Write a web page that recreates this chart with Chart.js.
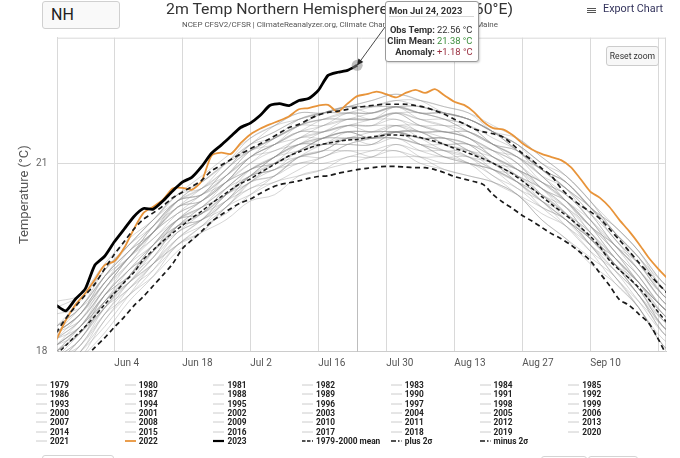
<!DOCTYPE html>
<html>
<head>
<meta charset="utf-8">
<title>2m Temp Northern Hemisphere</title>
<script src="https://cdn.jsdelivr.net/npm/chart.js@4.4.1/dist/chart.umd.min.js"></script>
<style>
  body { margin: 0; background: #fff; font-family: Roboto, "Noto Sans", sans-serif; }
  #wrap { position: relative; width: 680px; height: 458px; overflow: hidden; }
  #chart { position: absolute; left: 0; top: 0; }
  .abs { position: absolute; white-space: nowrap; }
  #region { left: 42px; top: 1px; width: 78px; height: 28px; box-sizing: border-box; border: 1px solid #d0d0d0;
            border-radius: 3px; background: #f9f9f9; font-size: 16px; color: #222; line-height: 26px; padding-left: 8px; }
  #title { top: 0; font-size: 15px; color: #333; transform-origin: 0 0; }
  #subtitle { top: 20px; font-size: 8px; color: #555; transform-origin: 0 0; }
  #exportIcon { left: 587px; top: 8px; width: 9px; height: 5px; }
  #exportIcon i { display: block; height: 1.2px; background: #555; margin-bottom: 0.7px; }
  #export { left: 603px; top: 1.5px; font-size: 10.8px; color: #33335c; }
  #reset { left: 606px; top: 46px; width: 53px; height: 20px; box-sizing: border-box; border: 1px solid #ccc;
           border-radius: 3px; background: #f7f7f7; font-size: 8.6px; color: #333; text-align: center; line-height: 18px; }
  #tip { left: 385px; top: 1px; width: 94px; height: 61px; box-sizing: border-box; background: #fff;
         border: 1px solid #9a9a9a; border-radius: 3px; box-shadow: 1px 1px 2px rgba(0,0,0,0.18); font-size: 9.4px; color: #333; }
  #tip .hd { position: absolute; left: 3px; top: 3px; font-weight: bold; }
  #tip .sep { position: absolute; left: 3px; right: 4px; top: 14px; border-top: 1px solid #d6d6d6; }
  #tip .lb { position: absolute; right: 43px; font-weight: bold; }
  #tip .vl { position: absolute; left: 51px; }
  #legend .item { position: absolute; height: 9px; display: flex; align-items: center; font-size: 8.3px; font-weight: bold; color: #222; }
  #legend svg { margin-right: 3px; }
  .stub { position: absolute; height: 12px; border: 1px solid #d4d4d4; border-radius: 3px; box-sizing: border-box; }
</style>
</head>
<body>
<div id="wrap">
  <canvas id="chart" width="680" height="458"></canvas>
  <div id="region" class="abs">NH</div>
  <div id="title" class="abs">2m Temp Northern Hemisphere (0-90°N, 0-360°E)</div>
  <div id="subtitle" class="abs">NCEP CFSV2/CFSR | ClimateReanalyzer.org, Climate Change Institute, University of Maine</div>
  <div id="exportIcon" class="abs"><i></i><i></i><i></i></div>
  <div id="export" class="abs">Export Chart</div>
  <div id="reset" class="abs">Reset zoom</div>
  <div id="legend"></div>
  <div class="stub" style="left:42px;top:455px;width:72px"></div>
  <div class="stub" style="left:541px;top:456px;width:46px"></div>
  <div class="stub" style="left:588px;top:456px;width:50px"></div>
  <div id="tip" class="abs"></div>
</div>
<script>
// day of year (2023) for x; the chart is zoomed to late May .. late Sep
const X_MIN = 143.25, X_MAX = 268.6;
const tickDays = [155, 169, 183, 197, 211, 225, 239, 253, 267];
const tickLabels = ['Jun 4', 'Jun 18', 'Jul 2', 'Jul 16', 'Jul 30', 'Aug 13', 'Aug 27', 'Sep 10', ''];
const yTicks = [18, 21];

// every 2 days for the highlighted series
const keyDays = [143,145,147,149,151,153,155,157,159,161,163,165,167,169,171,173,175,177,179,181,
                 183,185,187,189,191,193,195,197,199,201,203,205,207,209,211,213,215,217,219,221,
                 223,225,227,229,231,233,235,237,239,241,243,245,247,249,251,253,255,257,259,261,
                 263,265,267,269];
const days2023 = keyDays.slice(0, 32);

const temps2023 = [18.74,18.65,18.84,19.00,19.38,19.52,19.75,19.95,20.15,20.28,20.27,20.40,20.56,20.70,20.78,20.95,
                   21.16,21.29,21.43,21.57,21.64,21.76,21.92,21.95,21.92,22.00,22.03,22.16,22.40,22.45,22.48,22.56];
const temps2022 = [18.18,18.50,18.75,18.93,19.15,19.38,19.44,19.65,19.95,20.21,20.31,20.42,20.60,20.61,20.58,20.72,
                   21.12,21.17,21.15,21.32,21.46,21.55,21.62,21.68,21.75,21.86,21.88,21.92,21.93,21.82,21.95,22.07,
                   22.10,22.14,22.10,22.05,22.12,22.17,22.12,22.18,22.08,21.98,21.93,21.82,21.66,21.56,21.54,21.45,
                   21.32,21.22,21.15,21.10,21.05,20.94,20.75,20.55,20.45,20.30,20.10,19.92,19.72,19.50,19.32,19.16];
const climMean = [17.95,18.10,18.25,18.40,18.57,18.75,18.93,19.10,19.26,19.47,19.62,19.76,19.89,20.01,20.13,20.24,
                  20.36,20.47,20.58,20.68,20.75,20.85,20.94,21.03,21.12,21.18,21.24,21.29,21.32,21.35,21.37,21.38,
                  21.41,21.43,21.45,21.45,21.44,21.43,21.39,21.35,21.30,21.24,21.19,21.13,21.07,21.00,20.92,20.83,
                  20.72,20.60,20.47,20.35,20.23,20.11,19.98,19.84,19.67,19.45,19.30,19.17,19.02,18.84,18.63,18.45];
const plus2s = [18.30,18.53,18.72,18.90,19.08,19.32,19.55,19.75,19.95,20.11,20.21,20.32,20.45,20.54,20.63,20.73,
                20.88,20.97,21.06,21.15,21.23,21.31,21.39,21.48,21.57,21.62,21.70,21.77,21.81,21.83,21.86,21.89,
                21.91,21.93,21.94,21.94,21.94,21.92,21.89,21.84,21.78,21.70,21.63,21.55,21.50,21.47,21.42,21.30,
                21.16,21.05,20.92,20.80,20.60,20.45,20.33,20.23,20.12,19.95,19.78,19.60,19.42,19.25,19.08,18.92];
const minus2s = [17.45,17.58,17.72,17.90,18.07,18.22,18.39,18.55,18.73,18.88,19.05,19.22,19.40,19.64,19.78,19.92,
                 20.07,20.18,20.28,20.37,20.43,20.52,20.60,20.66,20.69,20.72,20.76,20.79,20.80,20.84,20.87,20.90,
                 20.92,20.94,20.95,20.95,20.94,20.93,20.93,20.90,20.85,20.79,20.75,20.71,20.66,20.50,20.38,20.28,
                 20.17,20.08,19.98,19.88,19.80,19.70,19.58,19.45,19.25,19.05,18.83,18.74,18.60,18.46,18.20,17.90];

// every 5 days for the 1979-2021 spaghetti
const greyDays = [143,148,153,158,163,168,173,178,183,188,193,198,203,208,213,218,223,228,233,238,243,248,253,258,263,268,273];
const greyYears = [1979,1980,1981,1982,1983,1984,1985,1986,1987,1988,1989,1990,1991,1992,1993,1994,1995,1996,1997,1998,
                   1999,2000,2001,2002,2003,2004,2005,2006,2007,2008,2009,2010,2011,2012,2013,2014,2015,2016,2017,2018,
                   2019,2020,2021];
const greyTemps = [
  [17.7,18.1,18.6,18.9,19.3,19.8,20.1,20.4,20.6,20.8,21.1,21.3,21.4,21.3,21.4,21.2,21.1,21.1,20.9,20.8,20.5,20.1,19.7,19.4,19.0,18.4,18.1], // 1979
  [17.9,18.2,18.8,19.1,19.4,19.8,20.1,20.5,20.8,20.9,21.1,21.1,21.3,21.4,21.5,21.5,21.3,21.1,20.9,20.6,20.4,20.1,19.8,19.4,18.9,18.4,18.0],
  [18.0,18.4,18.9,19.2,19.6,19.9,20.1,20.3,20.7,21.0,21.3,21.4,21.4,21.4,21.4,21.3,21.3,21.3,21.1,20.8,20.5,20.3,19.9,19.4,19.0,18.6,18.2],
  [17.6,18.0,18.5,19.0,19.4,19.7,19.9,20.3,20.6,20.7,20.9,21.1,21.2,21.1,21.1,21.1,21.0,21.0,20.8,20.5,20.2,20.0,19.6,19.1,18.7,18.1,17.8],
  [17.8,18.2,18.7,19.2,19.6,20.0,20.1,20.4,20.8,21.1,21.3,21.3,21.3,21.3,21.5,21.4,21.4,21.2,21.0,20.7,20.4,20.2,19.8,19.5,19.1,18.5,18.2],
  [17.7,18.0,18.4,18.9,19.4,19.8,20.0,20.2,20.5,20.8,21.1,21.2,21.2,21.2,21.2,21.1,21.1,21.0,20.7,20.5,20.3,20.1,19.7,19.2,18.7,18.2,18.0], // 1984
  [17.6,17.9,18.5,18.9,19.2,19.6,19.9,20.3,20.5,20.7,20.8,20.9,21.1,21.1,21.3,21.1,20.9,20.8,20.7,20.5,20.1,19.8,19.5,19.2,18.7,18.1,17.8],
  [17.8,18.1,18.7,19.1,19.4,19.7,20.0,20.4,20.7,20.9,21.0,21.1,21.3,21.4,21.5,21.3,21.1,21.0,20.9,20.7,20.4,20.0,19.6,19.3,18.9,18.3,18.0],
  [18.0,18.3,18.7,19.1,19.6,20.1,20.3,20.5,20.8,21.1,21.3,21.3,21.4,21.5,21.6,21.4,21.2,21.1,21.0,20.8,20.6,20.3,19.8,19.4,19.1,18.6,18.2],
  [18.1,18.4,18.8,19.2,19.7,20.1,20.2,20.5,20.7,21.0,21.2,21.4,21.5,21.4,21.5,21.5,21.4,21.2,21.0,20.9,20.6,20.2,19.8,19.5,19.1,18.7,18.4],
  [17.9,18.1,18.6,19.1,19.5,20.0,20.2,20.4,20.7,20.8,21.1,21.2,21.4,21.4,21.4,21.3,21.2,21.2,21.0,20.7,20.4,20.1,19.8,19.4,18.9,18.4,18.1], // 1989
  [18.0,18.3,18.9,19.3,19.6,20.0,20.3,20.6,20.9,21.0,21.2,21.4,21.5,21.5,21.5,21.4,21.3,21.3,21.1,20.9,20.5,20.2,19.9,19.5,19.0,18.5,18.3],
  [18.1,18.3,18.8,19.3,19.7,20.0,20.1,20.4,20.8,21.0,21.1,21.2,21.4,21.4,21.5,21.3,21.2,21.0,20.9,20.7,20.3,20.0,19.7,19.3,18.8,18.3,18.1],
  [17.6,17.9,18.3,18.8,19.2,19.7,19.9,20.1,20.4,20.5,20.8,20.9,21.0,21.1,21.2,21.0,20.9,20.8,20.7,20.5,20.1,19.8,19.4,19.1,18.7,18.1,17.8],
  [17.7,18.0,18.6,19.0,19.3,19.7,20.0,20.3,20.7,20.8,21.0,21.0,21.1,21.2,21.3,21.2,21.2,21.1,20.8,20.6,20.3,20.1,19.7,19.2,18.8,18.4,18.1],
  [17.9,18.3,18.8,19.1,19.5,20.0,20.3,20.6,20.8,21.0,21.2,21.4,21.5,21.4,21.5,21.4,21.4,21.3,21.0,20.8,20.4,20.1,19.8,19.4,18.9,18.5,18.2], // 1994
  [18.1,18.4,19.0,19.4,19.7,20.1,20.4,20.7,20.9,21.1,21.3,21.5,21.6,21.6,21.6,21.5,21.5,21.4,21.2,20.9,20.6,20.4,20.0,19.5,19.1,18.7,18.4],
  [17.8,18.2,18.7,19.0,19.4,19.9,20.1,20.5,20.8,20.9,21.1,21.2,21.4,21.4,21.4,21.3,21.1,21.0,20.9,20.7,20.5,20.2,19.7,19.3,18.9,18.3,18.0],
  [18.0,18.4,18.9,19.3,19.6,20.0,20.2,20.6,20.9,21.1,21.4,21.4,21.5,21.4,21.5,21.5,21.5,21.4,21.1,20.9,20.7,20.4,20.0,19.5,19.1,18.7,18.4],
  [18.6,18.7,19.1,19.5,19.8,20.2,20.5,20.8,21.1,21.2,21.4,21.6,21.7,21.7,21.7,21.6,21.6,21.5,21.3,21.0,20.7,20.5,20.1,19.6,19.2,18.7,18.5],
  [18.0,18.3,18.7,19.2,19.7,20.1,20.2,20.5,20.9,21.1,21.2,21.3,21.5,21.5,21.5,21.4,21.4,21.3,21.0,20.8,20.6,20.3,19.8,19.4,19.0,18.6,18.3], // 1999
  [17.9,18.2,18.8,19.2,19.5,19.9,20.2,20.5,20.8,20.9,21.2,21.3,21.3,21.3,21.5,21.5,21.3,21.2,20.9,20.7,20.5,20.2,19.9,19.4,19.0,18.4,18.1],
  [18.2,18.4,18.9,19.4,19.8,20.1,20.3,20.7,21.0,21.2,21.3,21.4,21.6,21.6,21.7,21.5,21.5,21.4,21.2,21.0,20.6,20.4,20.0,19.6,19.1,18.7,18.4],
  [18.3,18.6,19.0,19.4,19.9,20.4,20.5,20.7,21.0,21.3,21.5,21.5,21.6,21.7,21.8,21.6,21.5,21.5,21.3,21.1,20.7,20.4,20.1,19.7,19.2,18.7,18.5],
  [18.1,18.5,19.0,19.5,19.9,20.2,20.4,20.7,21.1,21.3,21.5,21.5,21.6,21.6,21.8,21.7,21.6,21.4,21.2,21.1,20.8,20.4,20.0,19.7,19.3,18.8,18.4],
  [18.1,18.4,18.8,19.2,19.7,20.1,20.3,20.5,20.8,21.1,21.3,21.4,21.4,21.4,21.6,21.5,21.3,21.2,21.1,20.9,20.7,20.4,19.9,19.5,19.1,18.7,18.4], // 2004
  [18.3,18.6,19.2,19.6,19.9,20.3,20.5,20.9,21.2,21.3,21.5,21.6,21.8,21.8,21.9,21.7,21.6,21.6,21.4,21.2,20.8,20.5,20.2,19.8,19.3,18.8,18.6],
  [18.2,18.6,19.1,19.5,20.0,20.4,20.5,20.8,21.2,21.4,21.6,21.6,21.7,21.8,21.9,21.8,21.7,21.5,21.3,21.2,20.9,20.6,20.1,19.7,19.4,18.9,18.6],
  [18.3,18.5,19.0,19.5,19.9,20.3,20.4,20.7,21.1,21.3,21.5,21.7,21.8,21.7,21.8,21.7,21.7,21.6,21.3,21.1,20.8,20.6,20.2,19.7,19.3,18.8,18.5],
  [18.0,18.3,18.9,19.3,19.7,20.0,20.2,20.6,20.9,21.0,21.2,21.4,21.5,21.5,21.5,21.4,21.4,21.3,21.2,21.0,20.6,20.3,20.0,19.6,19.1,18.6,18.3],
  [18.1,18.4,18.9,19.2,19.6,20.1,20.4,20.7,20.9,21.1,21.4,21.5,21.6,21.5,21.6,21.6,21.5,21.4,21.1,20.9,20.7,20.5,20.1,19.6,19.2,18.7,18.4], // 2009
  [18.4,18.7,19.3,19.7,20.0,20.4,20.7,21.0,21.2,21.4,21.6,21.8,21.9,21.9,21.9,21.8,21.8,21.7,21.5,21.2,20.9,20.6,20.3,19.9,19.4,18.9,18.6],
  [18.3,18.6,19.1,19.6,20.0,20.4,20.5,20.8,21.2,21.4,21.6,21.7,21.7,21.7,21.9,21.8,21.7,21.5,21.3,21.2,20.9,20.7,20.3,19.8,19.4,18.9,18.7],
  [18.4,18.7,19.2,19.5,19.9,20.4,20.7,21.0,21.3,21.4,21.6,21.8,21.9,21.9,21.9,21.8,21.8,21.7,21.5,21.3,20.9,20.6,20.3,19.9,19.5,18.9,18.6],
  [18.2,18.5,19.0,19.5,19.9,20.2,20.4,20.8,21.1,21.3,21.4,21.5,21.7,21.7,21.8,21.6,21.5,21.5,21.3,21.1,20.8,20.4,20.0,19.7,19.3,18.8,18.5],
  [18.2,18.5,19.1,19.5,19.9,20.3,20.4,20.7,21.1,21.3,21.6,21.7,21.7,21.7,21.8,21.8,21.7,21.6,21.3,21.1,20.9,20.6,20.2,19.7,19.3,18.9,18.6], // 2014
  [18.3,18.6,19.2,19.6,20.0,20.3,20.5,20.9,21.2,21.4,21.7,21.8,21.8,21.8,21.9,21.9,21.8,21.7,21.5,21.2,20.9,20.7,20.3,19.9,19.5,19.0,18.7],
  [18.8,18.9,19.3,19.7,20.1,20.4,20.6,21.0,21.3,21.6,21.8,21.8,21.9,21.9,22.0,22.0,21.9,21.8,21.5,21.3,21.0,20.8,20.4,19.9,19.5,19.0,18.7],
  [18.4,18.7,19.2,19.7,20.1,20.5,20.6,20.9,21.3,21.5,21.7,21.8,21.9,21.8,21.9,21.9,21.8,21.7,21.5,21.2,20.9,20.7,20.3,20.0,19.6,19.0,18.7],
  [18.3,18.7,19.2,19.6,19.9,20.3,20.6,20.9,21.3,21.5,21.7,21.8,21.8,21.8,21.9,21.8,21.8,21.7,21.5,21.3,21.0,20.7,20.3,19.8,19.4,19.0,18.7],
  [18.4,18.8,19.3,19.7,20.1,20.5,20.7,21.0,21.4,21.6,21.7,21.8,21.9,22.0,22.1,22.0,21.8,21.7,21.5,21.4,21.1,20.8,20.4,19.9,19.5,19.1,18.8], // 2019
  [18.7,18.9,19.4,19.8,20.1,20.5,20.8,21.1,21.4,21.6,21.8,21.8,21.9,22.0,22.1,22.0,21.9,21.8,21.6,21.4,21.1,20.8,20.4,20.0,19.6,19.1,18.8],
  [18.3,18.6,19.1,19.5,20.0,20.4,20.6,20.8,21.1,21.4,21.6,21.7,21.8,21.9,22.0,21.9,21.8,21.7,21.5,21.3,21.0,20.7,20.3,20.0,19.6,19.1,18.8]
];

// the day shown in the tooltip
const hoverDay = 205;

const pairs = (xs, ys) => ys.map((y, i) => ({ x: xs[i], y: y }));

const datasets = [];
greyYears.forEach((yr, i) => {
  datasets.push({
    label: String(yr), data: pairs(greyDays, greyTemps[i]),
    borderColor: 'rgba(140,140,140,0.4)', borderWidth: 0.9, tension: 0.35, order: 4,
    legendColor: '#cccccc'
  });
});
datasets.push({ label: '2022', data: pairs(keyDays, temps2022), borderColor: '#e8943a', borderWidth: 1.8, tension: 0.25, order: 3 });
datasets.push({ label: '2023', data: pairs(days2023, temps2023), borderColor: '#000', borderWidth: 2.8, tension: 0.2, order: 0 });
datasets.push({ label: '1979-2000 mean', data: pairs(keyDays, climMean), borderColor: '#1a1a1a', borderWidth: 1.5,
                borderDash: [4, 2.5], tension: 0.3, order: 1, legendDash: [3.5, 1.5] });
datasets.push({ label: 'plus 2σ', data: pairs(keyDays, plus2s), borderColor: '#1a1a1a', borderWidth: 1.7,
                borderDash: [5, 3.5], tension: 0.3, order: 2, legendDash: [5, 2, 1.5, 2] });
datasets.push({ label: 'minus 2σ', data: pairs(keyDays, minus2s), borderColor: '#1a1a1a', borderWidth: 1.7,
                borderDash: [5, 3.5], tension: 0.3, order: 2, legendDash: [5, 2, 1.5, 2] });

// plot frame, crosshair, hovered marker and tooltip connector
const overlayPlugin = {
  id: 'overlay',
  beforeDatasetsDraw(chart) {
    const { ctx, chartArea: a } = chart;
    ctx.save();
    ctx.strokeStyle = '#d9d9d9';
    ctx.lineWidth = 1;
    ctx.beginPath();
    ctx.moveTo(a.left, a.top + 0.5); ctx.lineTo(a.right, a.top + 0.5);
    ctx.moveTo(a.right - 0.5, a.top); ctx.lineTo(a.right - 0.5, a.bottom);
    ctx.stroke();
    const cx = Math.round(chart.scales.x.getPixelForValue(hoverDay)) + 0.5;
    ctx.strokeStyle = '#bdbdbd';
    ctx.beginPath(); ctx.moveTo(cx, a.top); ctx.lineTo(cx, a.bottom); ctx.stroke();
    ctx.restore();
  },
  afterDatasetsDraw(chart) {
    const { ctx } = chart;
    const obs = temps2023[days2023.indexOf(hoverDay)];
    const px = chart.scales.x.getPixelForValue(hoverDay);
    const py = chart.scales.y.getPixelForValue(obs);
    ctx.save();
    ctx.fillStyle = 'rgba(140,140,140,0.55)';
    ctx.beginPath(); ctx.arc(px, py, 5.5, 0, Math.PI * 2); ctx.fill();
    const tx = 385, ty = 27;
    ctx.strokeStyle = '#333'; ctx.lineWidth = 0.9;
    ctx.beginPath(); ctx.moveTo(tx, ty); ctx.lineTo(px, py); ctx.stroke();
    const ang = Math.atan2(py - ty, px - tx);
    ctx.fillStyle = '#222';
    ctx.beginPath();
    ctx.moveTo(px, py);
    ctx.lineTo(px - 7 * Math.cos(ang - 0.45), py - 7 * Math.sin(ang - 0.45));
    ctx.lineTo(px - 7 * Math.cos(ang + 0.45), py - 7 * Math.sin(ang + 0.45));
    ctx.closePath(); ctx.fill();
    ctx.restore();
  }
};

Chart.defaults.font.family = 'Roboto';

const chart = new Chart(document.getElementById('chart'), {
  type: 'line',
  data: { datasets: datasets },
  options: {
    responsive: false,
    animation: false,
    events: [],
    layout: { padding: { left: 0, right: 14, top: 37.7, bottom: 0 } },
    elements: { point: { radius: 0 } },
    plugins: { legend: { display: false }, tooltip: { enabled: false } },
    scales: {
      x: {
        type: 'linear', min: X_MIN, max: X_MAX,
        afterBuildTicks: s => { s.ticks = tickDays.map(v => ({ value: v })); },
        afterFit: s => { s.height = 458 - 351.7; },
        grid: { color: '#d9d9d9', drawTicks: false },
        border: { color: '#cccccc' },
        ticks: {
          align: 'start', autoSkip: false, maxRotation: 0, padding: 6, color: '#555',
          font: { size: 10 },
          callback: (v, i) => tickLabels[i]
        }
      },
      y: {
        min: 18, max: 23,
        afterBuildTicks: s => { s.ticks = yTicks.map(v => ({ value: v })); },
        afterFit: s => { s.width = 57.3; },
        grid: { color: '#d9d9d9', drawTicks: false },
        border: { color: '#d9d9d9' },
        ticks: { padding: 10, color: '#666', font: { size: 10 } },
        title: { display: true, text: 'Temperature (°C)', color: '#555', font: { size: 13 }, padding: { top: 17, bottom: 0 } }
      }
    }
  },
  plugins: [overlayPlugin]
});

// legend, 7 columns, filled row by row like the original
const legendBox = document.getElementById('legend');
chart.data.datasets.forEach((ds, i) => {
  const col = i % 7, row = Math.floor(i / 7);
  const item = document.createElement('div');
  item.className = 'item';
  item.style.left = (36 + col * 88.7) + 'px';
  item.style.top = (380.5 + row * 9.3) + 'px';
  const dash = (ds.legendDash || []).join(' ');
  const w = ds.borderWidth < 1.2 ? 1 : Math.min(ds.borderWidth, 2.2);
  item.innerHTML = '<svg width="11" height="6"><line x1="0" y1="3" x2="11" y2="3" stroke="' +
    (ds.legendColor || ds.borderColor) + '" stroke-width="' + w + '" stroke-dasharray="' + dash + '"/></svg>' +
    '<span>' + ds.label + '</span>';
  legendBox.appendChild(item);
});

// tooltip for the hovered day
const months = ['Jan','Feb','Mar','Apr','May','Jun','Jul','Aug','Sep','Oct','Nov','Dec'];
const weekdays = ['Sun','Mon','Tue','Wed','Thu','Fri','Sat'];
const hd = new Date(2023, 0, hoverDay);
const obsT = temps2023[days2023.indexOf(hoverDay)];
const climT = climMean[keyDays.indexOf(hoverDay)];
const anom = obsT - climT;
document.getElementById('tip').innerHTML =
  '<div class="hd">' + weekdays[hd.getDay()] + ' ' + months[hd.getMonth()] + ' ' + hd.getDate() + ', ' + hd.getFullYear() + '</div>' +
  '<div class="sep"></div>' +
  '<div class="lb" style="top:22px">Obs Temp:</div><div class="vl" style="top:22px">' + obsT.toFixed(2) + ' °C</div>' +
  '<div class="lb" style="top:33px">Clim Mean:</div><div class="vl" style="top:33px;color:#3f8f3f">' + climT.toFixed(2) + ' °C</div>' +
  '<div class="lb" style="top:44px">Anomaly:</div><div class="vl" style="top:44px;color:#9a3040">' + (anom >= 0 ? '+' : '') + anom.toFixed(2) + ' °C</div>';

// squeeze title lines to the width they take in the original
function fitText(id, left, width) {
  const el = document.getElementById(id);
  el.style.left = left + 'px';
  const w = el.getBoundingClientRect().width;
  el.style.transform = 'scaleX(' + (width / w) + ')';
}
fitText('title', 166, 347);
fitText('subtitle', 182, 316);
</script>
</body>
</html>
